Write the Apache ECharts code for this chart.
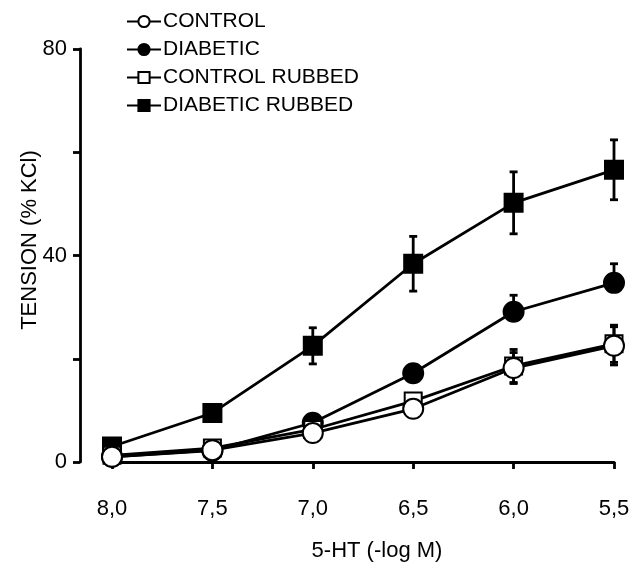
<!DOCTYPE html>
<html>
<head>
<meta charset="utf-8">
<script src="https://cdn.jsdelivr.net/npm/echarts@6/dist/echarts.min.js"></script>
<style>
html,body{margin:0;padding:0;background:#fff;}
#chart{width:634px;height:562px;}
</style>
</head>
<body>
<div id="chart"></div>
<script>
// ---- data ----
const categories = ['8,0', '7,5', '7,0', '6,5', '6,0', '5,5'];
const seriesNames = ['CONTROL', 'DIABETIC', 'CONTROL RUBBED', 'DIABETIC RUBBED'];

const control = [1.0, 2.3, 5.6, 10.3, 18.2, 22.5];
const controlErrUp = [0.3, 0.5, 0.8, 1.2, 3.0, 3.7];
const controlErrDown = [0.3, 0.5, 0.8, 1.2, 3.0, 3.7];

const diabetic = [1.0, 2.2, 7.6, 17.2, 29.1, 34.7];
const diabeticErrUp = [0.5, 0.5, 0.8, 1.7, 3.2, 3.7];
const diabeticErrDown = [0, 0, 0, 0, 0, 0];

const controlRubbed = [1.3, 2.7, 6.3, 11.8, 18.6, 22.9];
const controlRubbedErrUp = [0.3, 0.5, 0.8, 1.0, 3.2, 3.6];
const controlRubbedErrDown = [0.3, 0.5, 0.8, 1.0, 3.2, 3.6];

const diabeticRubbed = [3.0, 9.5, 22.5, 38.4, 50.2, 56.6];
const diabeticRubbedErrUp = [0.5, 1.0, 3.5, 5.3, 6.0, 5.8];
const diabeticRubbedErrDown = [0.5, 1.0, 3.5, 5.3, 6.0, 5.8];

const yTicks = [0, 40, 80];
const xTitle = '5-HT (-log M)';
const yTitle = 'TENSION (% KCl)';

// ---- chart ----
const FONT = 'Liberation Sans, Arial, sans-serif';
const FS = 22;
const LW = 2.8;
const chart = echarts.init(document.getElementById('chart'), null, {renderer: 'canvas'});

function errData(vals, up, dn) {
  return vals.map((v, i) => [i, v, up[i], dn[i]]);
}
function errSeries(vals, up, dn, z) {
  return {
    type: 'custom',
    silent: true,
    z: z,
    data: errData(vals, up, dn),
    encode: {x: 0, y: 1},
    renderItem: function (params, api) {
      const x = api.value(0), y = api.value(1), u = api.value(2), d = api.value(3);
      const c = api.coord([x, y]);
      const style = {stroke: '#000', lineWidth: LW};
      const children = [];
      const cap = 4;
      if (u > 0) {
        const t = api.coord([x, y + u]);
        children.push({type: 'line', shape: {x1: c[0], y1: c[1], x2: t[0], y2: t[1]}, style: style});
        children.push({type: 'line', shape: {x1: t[0] - cap, y1: t[1], x2: t[0] + cap, y2: t[1]}, style: style});
      }
      if (d > 0) {
        const b = api.coord([x, y - d]);
        children.push({type: 'line', shape: {x1: c[0], y1: c[1], x2: b[0], y2: b[1]}, style: style});
        children.push({type: 'line', shape: {x1: b[0] - cap, y1: b[1], x2: b[0] + cap, y2: b[1]}, style: style});
      }
      return {type: 'group', children: children};
    }
  };
}
function lineSeries(name, vals, symbol, size, fill, z) {
  return {
    name: name,
    type: 'line',
    data: vals,
    z: z,
    symbol: symbol,
    symbolSize: size,
    showSymbol: true,
    showAllSymbol: true,
    lineStyle: {color: '#000', width: LW},
    itemStyle: {color: fill, borderColor: '#000', borderWidth: 2},
    emphasis: {disabled: true}
  };
}

const option = {
  animation: false,
  backgroundColor: '#fff',
  grid: {left: 112, right: 20, top: 49, bottom: 100, containLabel: false},
  legend: {
    data: seriesNames,
    orient: 'vertical',
    left: 126,
    top: 11,
    padding: 0,
    itemGap: 7,
    itemWidth: 34,
    itemHeight: 14,
    selectedMode: false,
    textStyle: {fontFamily: FONT, fontSize: 21, color: '#000', padding: [0, 0, 0, -3]}
  },
  xAxis: {
    type: 'category',
    data: categories,
    boundaryGap: false,
    offset: 21,
    axisLine: {lineStyle: {color: '#000', width: LW}},
    axisTick: {length: 7, alignWithLabel: true, lineStyle: {color: '#000', width: LW}},
    axisLabel: {fontFamily: FONT, fontSize: FS, color: '#000', margin: 15}
  },
  yAxis: {
    type: 'value',
    min: 0,
    max: 80,
    interval: 20,
    offset: 32,
    splitLine: {show: false},
    axisLine: {show: true, lineStyle: {color: '#000', width: LW}},
    axisTick: {show: true, length: 7, lineStyle: {color: '#000', width: LW}},
    axisLabel: {
      fontFamily: FONT, fontSize: FS, color: '#000', margin: 13,
      formatter: function (v) { return yTicks.indexOf(v) >= 0 ? String(v) : ''; }
    }
  },
  graphic: [
    {type: 'text', style: {text: xTitle, font: FS + 'px ' + FONT, fill: '#000', textAlign: 'center', textVerticalAlign: 'middle'}, x: 377, y: 551},
    {type: 'text', style: {text: yTitle, font: FS + 'px ' + FONT, fill: '#000', textAlign: 'center', textVerticalAlign: 'middle'}, x: 30, y: 240, rotation: Math.PI / 2}
  ],
  series: [
    errSeries(diabeticRubbed, diabeticRubbedErrUp, diabeticRubbedErrDown, 1),
    errSeries(diabetic, diabeticErrUp, diabeticErrDown, 1),
    errSeries(controlRubbed, controlRubbedErrUp, controlRubbedErrDown, 1),
    errSeries(control, controlErrUp, controlErrDown, 1),
    lineSeries('DIABETIC RUBBED', diabeticRubbed, 'rect', 18, '#000', 2),
    lineSeries('DIABETIC', diabetic, 'circle', 20, '#000', 3),
    lineSeries('CONTROL RUBBED', controlRubbed, 'rect', 17, '#fff', 4),
    lineSeries('CONTROL', control, 'circle', 20, '#fff', 5)
  ]
};
chart.setOption(option);
</script>
</body>
</html>
